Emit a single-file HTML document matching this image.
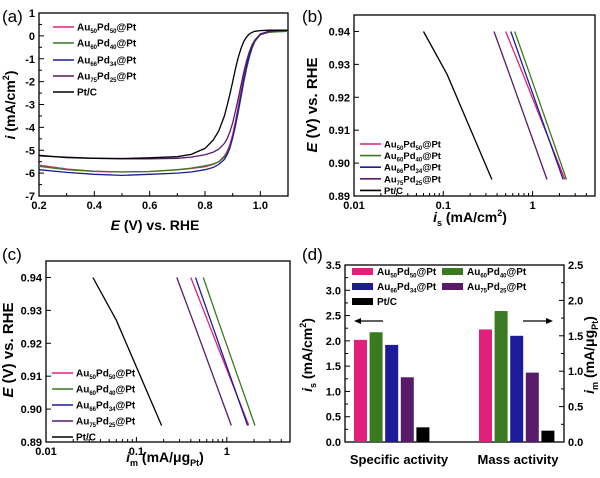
<!DOCTYPE html>
<html><head><meta charset="utf-8"><style>
body{margin:0;background:#fff}
svg{display:block;font-family:"Liberation Sans",sans-serif;font-weight:bold}
text{fill:#000}
</style></head><body>
<svg id="fig" width="600" height="478" viewBox="0 0 600 478" xmlns="http://www.w3.org/2000/svg">
<g id="pa"></g>
<g id="pb"></g>
<g id="pc"></g>
<g id="pd"></g>

<text x="2" y="22" font-size="17" font-weight="normal">(a)</text>
<text x="302" y="22" font-size="17" font-weight="normal">(b)</text>
<text x="2" y="260" font-size="17" font-weight="normal">(c)</text>
<text x="302" y="260" font-size="17" font-weight="normal">(d)</text>

<text x="155" y="230" font-size="14" text-anchor="middle"><tspan font-style="italic">E</tspan> (V) vs. RHE</text>
<text transform="translate(15,105) rotate(-90)" font-size="14" text-anchor="middle"><tspan font-style="italic">i</tspan> (mA/cm<tspan font-size="9" dy="-6">2</tspan><tspan dy="6">)</tspan></text>

<text x="470" y="222" font-size="14" text-anchor="middle"><tspan font-style="italic">i</tspan><tspan font-size="9" dy="4">s</tspan><tspan dy="-4"> (mA/cm</tspan><tspan font-size="9" dy="-6">2</tspan><tspan dy="6">)</tspan></text>
<text transform="translate(317,105) rotate(-90)" font-size="15" text-anchor="middle"><tspan font-style="italic">E</tspan> (V) vs. RHE</text>

<text x="165" y="462" font-size="14" text-anchor="middle"><tspan font-style="italic">i</tspan><tspan font-size="9" dy="4">m</tspan><tspan dy="-4"> (mA/μg</tspan><tspan font-size="9" dy="4">Pt</tspan><tspan dy="-4">)</tspan></text>
<text transform="translate(13,350) rotate(-90)" font-size="15" text-anchor="middle"><tspan font-style="italic">E</tspan> (V) vs. RHE</text>

<text transform="translate(312,355) rotate(-90)" font-size="14" text-anchor="middle"><tspan font-style="italic">i</tspan><tspan font-size="9" dy="4">s</tspan><tspan dy="-4"> (mA/cm</tspan><tspan font-size="9" dy="-6">2</tspan><tspan dy="6">)</tspan></text>
<text transform="translate(594,355) rotate(-90)" font-size="14" text-anchor="middle"><tspan font-style="italic">i</tspan><tspan font-size="9" dy="4">m</tspan><tspan dy="-4"> (mA/μg</tspan><tspan font-size="9" dy="4">Pt</tspan><tspan dy="-4">)</tspan></text>
<text x="399" y="464" font-size="13" text-anchor="middle">Specific activity</text>
<text x="518" y="464" font-size="13" text-anchor="middle">Mass activity</text>
<g><line x1="358" y1="321" x2="383" y2="321" stroke="#000" stroke-width="1.2"/><polygon points="354,321 361,318 361,324" fill="#000"/></g>
<g><line x1="523" y1="321" x2="549" y2="321" stroke="#000" stroke-width="1.2"/><polygon points="553,321 546,318 546,324" fill="#000"/></g>
</svg>
<script>
const names = ['Au50Pd50@Pt','Au60Pd40@Pt','Au66Pd34@Pt','Au75Pd25@Pt','Pt/C'];
const colors = ['#e0207a','#3a7a20','#1c1c9a','#5a1a6a','#000000'];
// Panel a data: E values and currents
const aE = [0.2,0.3,0.4,0.5,0.6,0.7,0.75,0.8,0.83,0.85,0.87,0.88,0.89,0.9,0.91,0.92,0.93,0.94,0.95,0.96,0.97,0.98,1.0,1.03,1.06,1.1];
const aPink =   [-5.65,-5.82,-5.92,-5.95,-5.93,-5.86,-5.8,-5.72,-5.62,-5.5,-5.25,-5.05,-4.75,-4.3,-3.75,-3.1,-2.45,-1.8,-1.25,-0.8,-0.45,-0.2,0.08,0.18,0.2,0.22];
const aGreen =  [-5.7,-5.85,-5.92,-5.95,-5.93,-5.85,-5.78,-5.68,-5.6,-5.5,-5.3,-5.12,-4.85,-4.45,-3.95,-3.35,-2.7,-2.05,-1.45,-0.95,-0.55,-0.25,0.05,0.15,0.18,0.2];
const aBlue =   [-5.85,-5.97,-6.05,-6.1,-6.05,-6.0,-5.95,-5.85,-5.75,-5.62,-5.4,-5.2,-4.9,-4.45,-3.9,-3.25,-2.6,-1.95,-1.35,-0.85,-0.5,-0.22,0.08,0.2,0.24,0.25];
const aPurple = [-5.25,-5.3,-5.35,-5.38,-5.38,-5.35,-5.3,-5.2,-5.08,-4.95,-4.7,-4.5,-4.2,-3.8,-3.3,-2.75,-2.15,-1.6,-1.1,-0.7,-0.4,-0.18,0.06,0.18,0.22,0.24];
const aPtC =    [-5.22,-5.32,-5.35,-5.36,-5.33,-5.28,-5.18,-4.92,-4.55,-4.15,-3.5,-3.05,-2.55,-2.0,-1.45,-0.95,-0.55,-0.25,-0.05,0.08,0.15,0.2,0.23,0.25,0.25,0.25];
const aSeries = [aPink,aGreen,aBlue,aPurple,aPtC];
const aXTicks = [0.2,0.4,0.6,0.8,1.0];
const aXTickLabels = ['0.2','0.4','0.6','0.8','1.0'];
const aYTicks = [1,0,-1,-2,-3,-4,-5,-6,-7];
// Panel b: specific activity Tafel (current at E values)
const tE = [0.94,0.927,0.895];
const bPink = [0.5,0.78,2.3];
const bGreen = [0.63,0.93,2.4];
const bBlue = [0.57,0.84,2.2];
const bPurple = [0.37,0.55,1.45];
const bPtC = [0.06,0.11,0.35];
const bSeries = [bPink,bGreen,bBlue,bPurple,bPtC];
// Panel c: mass activity Tafel
const cPink = [0.4,0.61,1.75];
const cGreen = [0.55,0.8,2.05];
const cBlue = [0.45,0.66,1.7];
const cPurple = [0.28,0.42,1.12];
const cPtC = [0.033,0.06,0.19];
const cSeries = [cPink,cGreen,cBlue,cPurple,cPtC];
const logTicks = [0.01,0.1,1];
const logTickLabels = ['0.01','0.1','1'];
const eTicks = [0.89,0.90,0.91,0.92,0.93,0.94];
const eTickLabels = ['0.89','0.90','0.91','0.92','0.93','0.94'];
// Panel d bars
const dSpecific = [2.02,2.17,1.92,1.28,0.29];
const dMass = [1.59,1.85,1.50,0.98,0.16];
const dLeftTicks = [0,0.5,1.0,1.5,2.0,2.5,3.0,3.5];
const dRightTicks = [0,0.5,1.0,1.5,2.0,2.5];

const NS='http://www.w3.org/2000/svg';
function mk(tag,parent,attrs){const e=document.createElementNS(NS,tag);for(const k in attrs)e.setAttribute(k,attrs[k]);parent.appendChild(e);return e;}
function lin(d0,d1,r0,r1){return v=>r0+(v-d0)*(r1-r0)/(d1-d0);}
function logS(d0,d1,r0,r1){return v=>r0+(Math.log10(v)-Math.log10(d0))*(r1-r0)/(Math.log10(d1)-Math.log10(d0));}

function frame(g,x0,y0,x1,y1,nm){const r=mk('rect',g,{x:x0,y:y0,width:x1-x0,height:y1-y0,fill:'none',stroke:'#000','stroke-width':1.3});

}
function tickX(g,x,y,len,lab,nm){const t=mk('line',g,{x1:x,y1:y,x2:x,y2:y-len,stroke:'#000','stroke-width':1});


if(lab!==null){const tx=mk('text',g,{x:x,y:y+13,'font-size':11,'text-anchor':'middle'});tx.textContent=lab;

}}
function tickY(g,x,y,len,lab,nm,right){const t=mk('line',g,{x1:x,y1:y,x2:x+(right?-len:len),y2:y,stroke:'#000','stroke-width':1});


if(lab!==null){const tx=mk('text',g,{x:right?x+4:x-4,y:y+4,'font-size':11,'text-anchor':right?'start':'end'});tx.textContent=lab;

}}
function legendLine(g,x,y,i,nm,fs){const l=mk('line',g,{x1:x,y1:y,x2:x+21,y2:y,stroke:colors[i],'stroke-width':1.6});


legText(g,x+24,y+3.5,i,nm,fs);}
function legText(g,x,y,i,nm,fs){const t=mk('text',g,{x:x,y:y,'font-size':fs||10});


if(i===4){t.textContent='Pt/C';return;}
const m=names[i].match(/Au(\d+)Pd(\d+)@Pt/);
t.innerHTML='Au<tspan font-size="6" dy="2.5">'+m[1]+'</tspan><tspan dy="-2.5">Pd</tspan><tspan font-size="6" dy="2.5">'+m[2]+'</tspan><tspan dy="-2.5">@Pt</tspan>';}

// Panel a
(function(){const g=document.getElementById('pa');const X0=39,X1=288,Y0=13,Y1=196;
const sx=lin(0.2,1.1,X0,X1), sy=lin(1,-7,Y0,Y1);
frame(g,X0,Y0,X1,Y1,'a-plot-frame');
aXTicks.forEach((v,i)=>tickX(g,sx(v),Y1,5,aXTickLabels[i],'a-x'));
[0.3,0.5,0.7,0.9,1.1].forEach(v=>tickX(g,sx(v),Y1,3,null,'a-x-minor'));
aYTicks.forEach(v=>tickY(g,X0,sy(v),5,String(v),'a-y'));
[0.5,-0.5,-1.5,-2.5,-3.5,-4.5,-5.5,-6.5].forEach(v=>tickY(g,X0,sy(v),3,null,'a-y-minor'));
aSeries.forEach((s,i)=>{const p=mk('path',g,{d:s.map((v,j)=>(j?'L':'M')+sx(aE[j]).toFixed(1)+','+sy(v).toFixed(1)).join(''),fill:'none',stroke:colors[i],'stroke-width':1.3});

});
[27,43,60,76,92].forEach((y,i)=>legendLine(g,53,y,i,'a-'+i,10));})();

function tafel(gid,pre,X0,X1,Y0,Y1,series,yStart,ySp,fs){const g=document.getElementById(gid);
const sx=logS(0.01,5,X0,X1), sy=lin(0.945,0.89,Y0,Y1);
frame(g,X0,Y0,X1,Y1,pre+'-plot-frame');
logTicks.forEach((v,i)=>tickX(g,sx(v),Y1,5,logTickLabels[i],pre+'-x'));
[0.02,0.03,0.04,0.05,0.06,0.07,0.08,0.09,0.2,0.3,0.4,0.5,0.6,0.7,0.8,0.9,2,3,4,5].forEach(v=>tickX(g,sx(v),Y1,3,null,pre+'-x-minor'));
eTicks.forEach((v,i)=>tickY(g,X0,sy(v),5,eTickLabels[i],pre+'-y'));
series.forEach((s,i)=>{const p=mk('path',g,{d:s.map((v,j)=>(j?'L':'M')+sx(v).toFixed(1)+','+sy(tE[j]).toFixed(1)).join(''),fill:'none',stroke:colors[i],'stroke-width':1.3});

});
for(let i=0;i<5;i++)legendLine(g,X0+6,yStart+i*ySp,i,pre+'-'+i,fs);}
tafel('pb','b',354,595,15,196,bSeries,144,11.6,9.5);
tafel('pc','c',46,290,261,442,cSeries,373,16,10);

// Panel d
(function(){const g=document.getElementById('pd');const X0=345,X1=564,Y0=265,Y1=442;
const syL=lin(0,3.5,Y1,Y0), syR=lin(0,2.5,Y1,Y0);
frame(g,X0,Y0,X1,Y1,'d-plot-frame');
dLeftTicks.forEach(v=>tickY(g,X0,syL(v),5,v.toFixed(1),'d-left-y'));
dRightTicks.forEach(v=>tickY(g,X1,syR(v),5,v.toFixed(1),'d-right-y',true));
[0.25,0.75,1.25,1.75,2.25,2.75,3.25].forEach(v=>tickY(g,X0,syL(v),3,null,'d-left-y-minor'));
[0.25,0.75,1.25,1.75,2.25].forEach(v=>tickY(g,X1,syR(v),3,null,'d-right-y-minor',true));
const bw=13, sp=15.6;
dSpecific.forEach((v,i)=>{const r=mk('rect',g,{x:354+i*sp,y:syL(v),width:bw,height:Y1-syL(v),fill:colors[i]});

});
dMass.forEach((v,i)=>{const r=mk('rect',g,{x:479+i*sp,y:syR(v),width:bw,height:Y1-syR(v),fill:colors[i]});

});
const pos=[[352,268],[442,268],[352,283],[442,283],[352,298]];
pos.forEach((p,i)=>{const r=mk('rect',g,{x:p[0],y:p[1],width:21,height:7,fill:colors[i]});


legText(g,p[0]+25,p[1]+7,i,'d-'+i,10);});})();
</script>
</body></html>
